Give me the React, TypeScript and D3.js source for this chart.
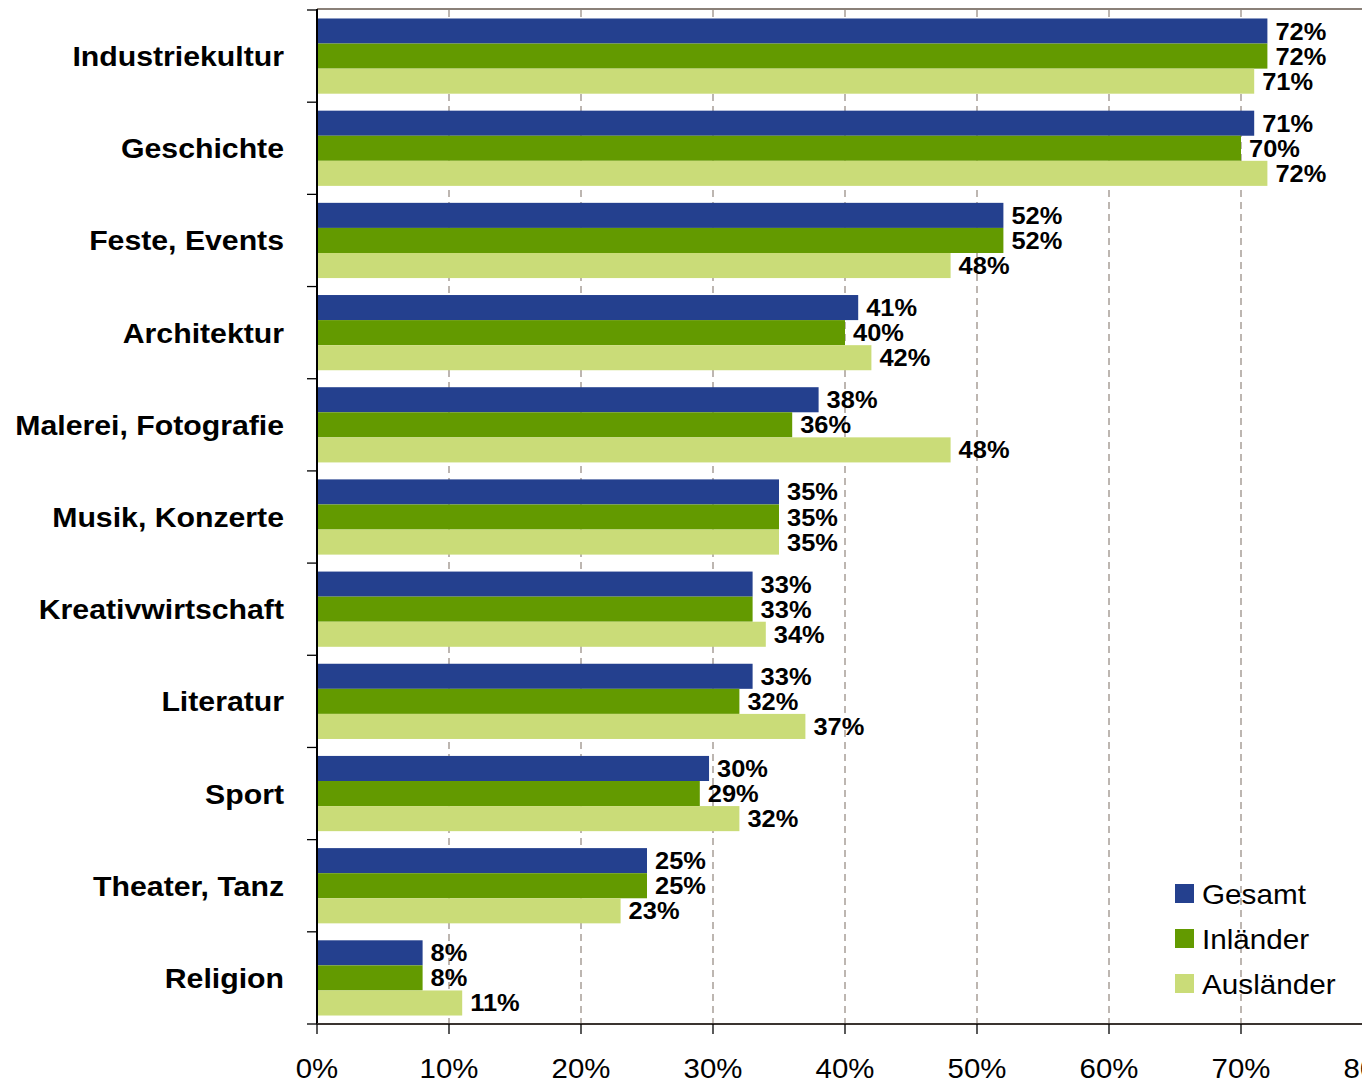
import React from "react";
import * as d3 from "d3";

const categories = [
  "Industriekultur",
  "Geschichte",
  "Feste, Events",
  "Architektur",
  "Malerei, Fotografie",
  "Musik, Konzerte",
  "Kreativwirtschaft",
  "Literatur",
  "Sport",
  "Theater, Tanz",
  "Religion",
];

const seriesNames = ["Gesamt", "Inländer", "Ausländer"];
const seriesColors = ["#24408E", "#639A00", "#CADC78"];

const gesamt = [72, 71, 52, 41, 38, 35, 33, 33, 29.7, 25, 8];
const inlaender = [72, 70, 52, 40, 36, 35, 33, 32, 29, 25, 8];
const auslaender = [71, 72, 48, 42, 48, 35, 34, 37, 32, 23, 11];

const xTicks = [0, 10, 20, 30, 40, 50, 60, 70, 80];

const FONT = "'Liberation Sans', Arial, Helvetica, sans-serif";

export default function App() {
  const W = 1362;
  const H = 1080;
  const left = 317;
  const top = 10;
  const bottom = 1024;

  const x = d3.scaleLinear().domain([0, 80]).range([left, 1373]);
  const y = d3.scaleBand<string>().domain(categories).range([top, bottom]).padding(0);
  const yInner = d3
    .scaleBand<string>()
    .domain(seriesNames)
    .range([y.step() * 0.092, y.step() * 0.908])
    .padding(0);

  const values = [gesamt, inlaender, auslaender];

  const boundaries = d3.range(categories.length + 1).map((i) => top + i * y.step());

  return (
    <svg
      width={W}
      height={H}
      style={{ position: "absolute", left: 0, top: 0, background: "#fff" }}
      fontFamily={FONT}
    >
      {/* gridlines */}
      {xTicks
        .filter((t) => t > 0)
        .map((t) => (
          <line
            key={"g" + t}
            x1={x(t)}
            x2={x(t)}
            y1={top}
            y2={bottom}
            stroke="#9a9088"
            strokeWidth={1.3}
            strokeDasharray="7,5"
          />
        ))}
      {/* top border */}
      <line x1={left} x2={W} y1={9} y2={9} stroke="#8a8078" strokeWidth={2} />

      {/* bars */}
      {categories.map((c, ci) => (
        <g key={c} transform={`translate(0,${y(c)})`}>
          {seriesNames.map((s, si) => {
            const v = values[si][ci];
            const yb = yInner(s)!;
            return (
              <g key={s}>
                <rect
                  x={x(0)}
                  y={yb}
                  width={x(v) - x(0)}
                  height={yInner.bandwidth()}
                  fill={seriesColors[si]}
                />
                <text
                  transform={`translate(${x(v) + 8},${yb + yInner.bandwidth() / 2 + 8.5}) scale(1.06,1)`}
                  fontSize={24}
                  fontWeight="bold"
                  fill="#000"
                >
                  {Math.round(v)}%
                </text>
              </g>
            );
          })}
        </g>
      ))}

      {/* left axis */}
      <line x1={left} x2={left} y1={top - 1} y2={bottom} stroke="#000" strokeWidth={2} />
      {boundaries.map((b, i) => (
        <line key={"lt" + i} x1={left - 10} x2={left} y1={b} y2={b} stroke="#000" strokeWidth={1.3} />
      ))}

      {/* bottom axis */}
      <line x1={left} x2={W} y1={bottom} y2={bottom} stroke="#3a3430" strokeWidth={2} />
      {xTicks.map((t) => (
        <line key={"bt" + t} x1={x(t)} x2={x(t)} y1={bottom} y2={bottom + 10} stroke="#000" strokeWidth={1.3} />
      ))}
      {xTicks.map((t) => (
        <text
          key={"tl" + t}
          transform={`translate(${x(t)},1078) scale(1.05,1)`}
          fontSize={28}
          textAnchor="middle"
          fill="#000"
        >
          {t}%
        </text>
      ))}

      {/* category labels */}
      {categories.map((c) => (
        <text
          key={"cl" + c}
          transform={`translate(284,${y(c)! + y.bandwidth() / 2 + 10}) scale(1.08,1)`}
          fontSize={28}
          fontWeight="bold"
          textAnchor="end"
          fill="#000"
        >
          {c}
        </text>
      ))}

      {/* legend */}
      {seriesNames.map((s, i) => (
        <g key={"lg" + s} transform={`translate(1175,${884 + i * 45})`}>
          <rect x={0} y={0} width={19} height={19} fill={seriesColors[i]} />
          <text transform="translate(27,19.5) scale(1.06,1)" fontSize={28} fill="#000">
            {s}
          </text>
        </g>
      ))}
    </svg>
  );
}
